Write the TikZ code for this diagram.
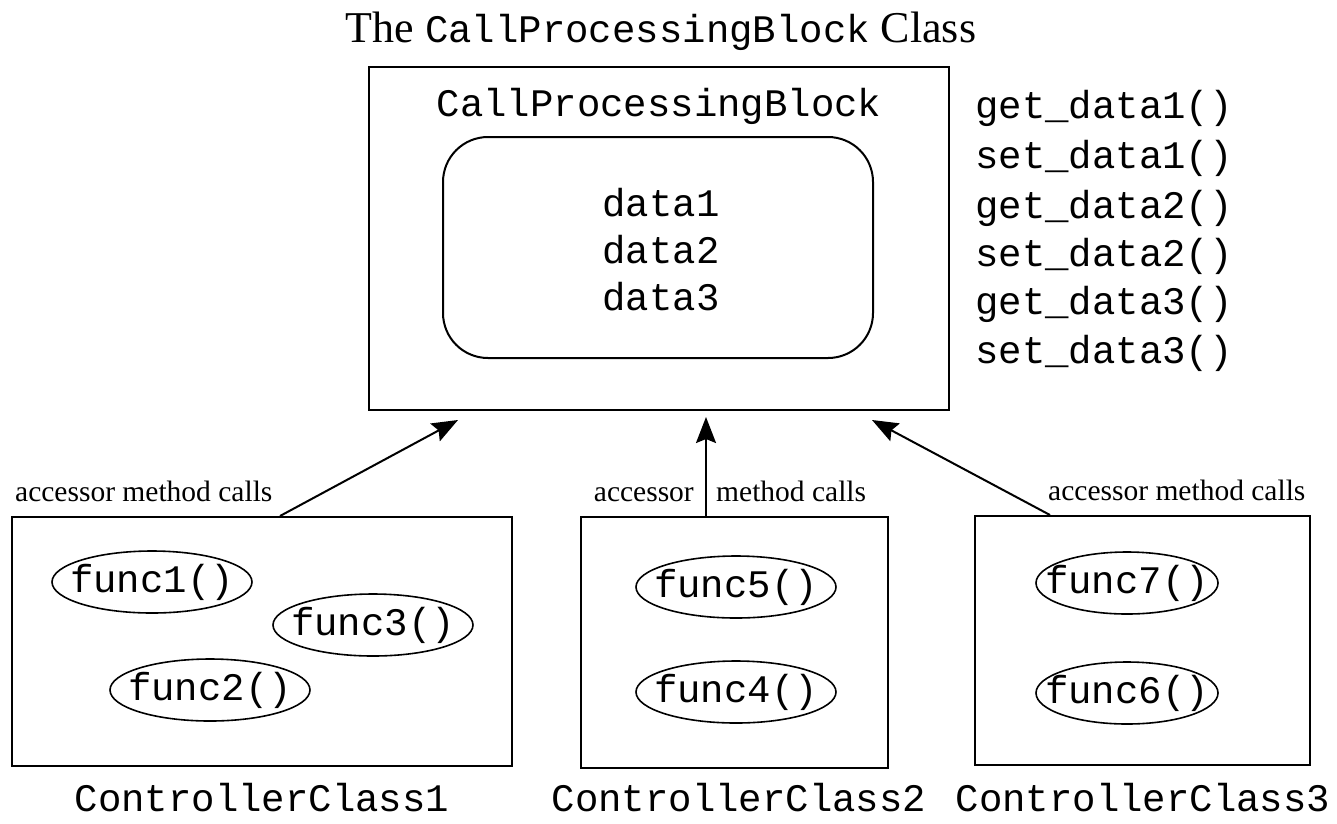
\documentclass[tikz,border=0pt]{standalone}
\usepackage{fontspec}
\setmainfont{Liberation Serif}
\setmonofont{Liberation Mono}
\usetikzlibrary{arrows.meta,shapes.geometric}
\tikzset{
  mono/.style={font=\ttfamily\fontsize{39}{39}\selectfont, inner sep=0pt},
  lbl/.style={font=\fontsize{29.5}{29.5}\selectfont, inner sep=0pt},
  bigbox/.style={draw, line width=2pt, inner sep=0pt},
  fn/.style={draw, ellipse, line width=1.6pt, minimum width=200pt, minimum height=62pt, inner sep=-30pt, font=\ttfamily\fontsize{39}{39}\selectfont},
  call/.style={line width=2pt, -{Stealth[length=26pt,width=20pt,inset=4pt]}}
}
\begin{document}
\begin{tikzpicture}[x=1pt,y=-1pt]
\useasboundingbox (0,0) rectangle (1337,823);
% title
\node[inner sep=0pt, anchor=base] (title) at (661,42)
  {\fontsize{44}{44}\selectfont The {\ttfamily\fontsize{39}{39}\selectfont CallProcessingBlock} Class};
% main box
\node[bigbox, minimum width=580pt, minimum height=343pt] (cpb) at (659,238.5) {};
\node[mono, anchor=base] (cpbname) at (659,116) {CallProcessingBlock};
\node[draw, line width=2pt, rounded corners=45pt, minimum width=430pt, minimum height=221pt, inner sep=0pt] (data) at (658,247.5) {};
\node[mono, anchor=base] (d1) at (661,216) {data1};
\node[mono, anchor=base] (d2) at (661,263) {data2};
\node[mono, anchor=base] (d3) at (661,310) {data3};
% methods
\node[mono, anchor=base west] (m1) at (975,118) {get\_data1()};
\node[mono, anchor=base west] (m2) at (975,168) {set\_data1()};
\node[mono, anchor=base west] (m3) at (975,218) {get\_data2()};
\node[mono, anchor=base west] (m4) at (975,266) {set\_data2()};
\node[mono, anchor=base west] (m5) at (975,314) {get\_data3()};
\node[mono, anchor=base west] (m6) at (975,363) {set\_data3()};
% controller boxes
\node[bigbox, minimum width=500pt, minimum height=249pt] (c1) at (262,641.5) {};
\node[bigbox, minimum width=307pt, minimum height=251pt] (c2) at (734.5,642.5) {};
\node[bigbox, minimum width=335pt, minimum height=249pt] (c3) at (1142.5,640.5) {};
% funcs
\node[fn] (f1) at (152,582) {func1()};
\node[fn] (f3) at (373,625) {func3()};
\node[fn] (f2) at (210,690) {func2()};
\node[fn] (f5) at (736,587) {func5()};
\node[fn] (f4) at (736,692) {func4()};
\node[fn, minimum width=182pt] (f7) at (1127,583) {func7()};
\node[fn, minimum width=182pt] (f6) at (1127,693) {func6()};
% bottom labels
\node[mono, anchor=base] (n1) at (262,811) {ControllerClass1};
\node[mono, anchor=base] (n2) at (739,811) {ControllerClass2};
\node[mono, anchor=base] (n3) at (1143,811) {ControllerClass3};
% arrows
\coordinate (t1) at (458,420);
\coordinate (t2) at (706,417);
\coordinate (t3) at (872,420);
\draw[call] ([xshift=18pt]c1.north) -- (t1);
\draw[call] ([xshift=-28.5pt]c2.north) -- (t2);
\draw[call] ([xshift=-92.5pt]c3.north) -- (t3);
% labels
\node[lbl, anchor=base west] (l1) at (15,501) {accessor method calls};
\node[lbl, anchor=base east] (l2a) at (694,501) {accessor};
\node[lbl, anchor=base west] (l2b) at (716,501) {method calls};
\node[lbl, anchor=base west] (l3) at (1048,500) {accessor method calls};
\end{tikzpicture}
\end{document}
